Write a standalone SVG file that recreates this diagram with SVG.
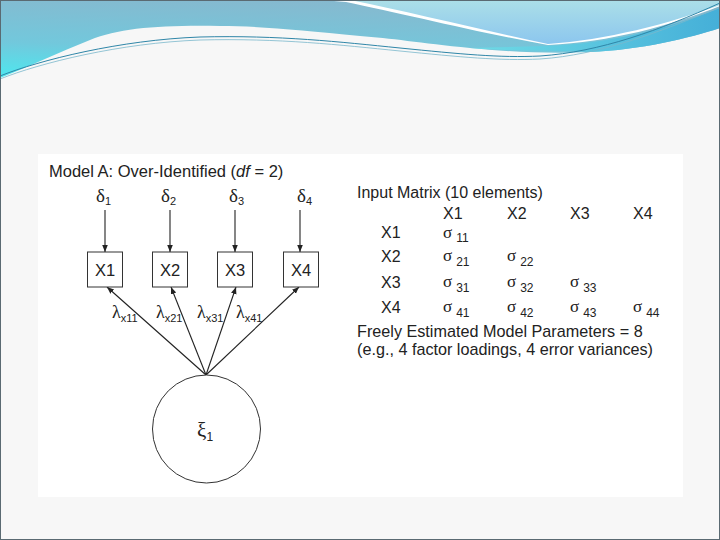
<svg xmlns="http://www.w3.org/2000/svg" width="720" height="540" viewBox="0 0 720 540">
<defs>
<linearGradient id="gBlue" x1="0.4" y1="0" x2="0.1" y2="1">
<stop offset="0" stop-color="#86b9cf"/>
<stop offset="0.6" stop-color="#72c8dc"/>
<stop offset="1" stop-color="#4fe6ee"/>
</linearGradient>
<linearGradient id="gLight" x1="0" y1="0" x2="0" y2="1">
<stop offset="0" stop-color="#abdfe8"/>
<stop offset="1" stop-color="#8cc6ee"/>
</linearGradient>
<linearGradient id="gBand" x1="0" y1="0" x2="1" y2="0">
<stop offset="0" stop-color="#6fdbe6"/>
<stop offset="1" stop-color="#45afd8"/>
</linearGradient>
<marker id="arr" viewBox="0 0 10 10" refX="10" refY="5" markerWidth="7" markerHeight="7" orient="auto" markerUnits="userSpaceOnUse">
<path d="M0,1 L10,5 L0,9 Z" fill="#222"/>
</marker>
<style>
.t{font-family:"Liberation Sans",Arial,sans-serif;fill:#222;}
.g{font-family:"Liberation Serif","Times New Roman",serif;fill:#222;}
.box{fill:#fff;stroke:#333;stroke-width:1;}
.ln{stroke:#222;stroke-width:1.1;fill:none;marker-end:url(#arr);}
</style>
</defs>
<!-- slide background -->
<rect x="0" y="0" width="720" height="540" fill="#f7f7f7"/>
<!-- header waves -->
<path d="M0,0 H720 V28 C690,38 640,50 590,52 C545,54 500,51 470,48 C420,43 390,38 360,36 C300,30 260,26 220,26 C160,25 120,28 90,40 C60,52 30,66 0,78 Z" fill="url(#gBlue)"/>
<path d="M470,48 C520,52 560,50 590,52 C640,50 690,38 720,28 V8 C670,28 610,44 545,46 C520,47 495,47 470,48 Z" fill="url(#gBand)"/>
<path d="M322,0 H720 V6 C670,26 610,42 548,45 C480,33 400,13 346,2 Z" fill="#ffffff"/>
<path d="M350,0 H720 V5 C668,24 606,40 548,44 C482,30 410,12 350,0 Z" fill="url(#gLight)"/>
<path d="M0,76 C40,60 120,40 200,37 C280,35 340,42 400,48 C460,54 500,58 540,56 C600,52 660,30 720,3" fill="none" stroke="#2f86a8" stroke-width="1"/>
<path d="M0,79 C40,63 120,43 200,40 C280,38 340,45 400,51 C460,57 500,61 540,59 C600,55 660,32 720,7" fill="none" stroke="#7ab8cc" stroke-width="0.8"/>
<!-- slide border -->
<rect x="0.5" y="0.5" width="719" height="539" fill="none" stroke="#5a6a72" stroke-width="1"/>
<!-- picture area -->
<rect x="38" y="154" width="645" height="343" fill="#ffffff"/>

<text class="t" x="49" y="177" font-size="16.5">Model A: Over-Identified (<tspan font-style="italic">df</tspan> = 2)</text>

<g id="connectors">
<line class="ln" x1="105" y1="210" x2="105" y2="252"/>
<line class="ln" x1="170" y1="210" x2="170" y2="252"/>
<line class="ln" x1="235" y1="210" x2="235" y2="252"/>
<line class="ln" x1="300" y1="210" x2="300" y2="252"/>
<line class="ln" x1="206" y1="375" x2="107" y2="287"/>
<line class="ln" x1="206" y1="375" x2="171" y2="287"/>
<line class="ln" x1="206" y1="375" x2="236" y2="287"/>
<line class="ln" x1="206" y1="375" x2="299" y2="287"/>
<text class="g" x="112" y="318" font-size="18">λ<tspan class="t" font-size="11" dy="4">x11</tspan></text>
<text class="g" x="156" y="318" font-size="18">λ<tspan class="t" font-size="11" dy="4">x21</tspan></text>
<text class="g" x="197" y="318" font-size="18">λ<tspan class="t" font-size="11" dy="4">x31</tspan></text>
<text class="g" x="236" y="318" font-size="18">λ<tspan class="t" font-size="11" dy="4">x41</tspan></text>
</g>

<g id="d1"><text class="g" x="96" y="202" font-size="19">δ<tspan class="t" font-size="11" dy="3">1</tspan></text></g>
<g id="d2"><text class="g" x="161" y="202" font-size="19">δ<tspan class="t" font-size="11" dy="3">2</tspan></text></g>
<g id="d3"><text class="g" x="229" y="202" font-size="19">δ<tspan class="t" font-size="11" dy="3">3</tspan></text></g>
<g id="d4"><text class="g" x="297" y="202" font-size="19">δ<tspan class="t" font-size="11" dy="3">4</tspan></text></g>

<g id="X1"><rect class="box" x="87.5" y="252" width="35" height="35"/><text class="t" x="105" y="275.5" font-size="16.5" text-anchor="middle">X1</text></g>
<g id="X2"><rect class="box" x="152.5" y="252" width="35" height="35"/><text class="t" x="170" y="275.5" font-size="16.5" text-anchor="middle">X2</text></g>
<g id="X3"><rect class="box" x="217.5" y="252" width="35" height="35"/><text class="t" x="235" y="275.5" font-size="16.5" text-anchor="middle">X3</text></g>
<g id="X4"><rect class="box" x="283.5" y="252" width="35" height="35"/><text class="t" x="301" y="275.5" font-size="16.5" text-anchor="middle">X4</text></g>

<g id="xi1"><circle cx="206.5" cy="429" r="54" fill="#fff" stroke="#333" stroke-width="1"/><text class="g" x="197" y="437" font-size="21">ξ<tspan class="t" font-size="12" dy="4">1</tspan></text></g>

<g id="matrix">
<text class="t" x="357" y="198" font-size="16">Input Matrix (10 elements)</text>
<text class="t" x="443" y="219" font-size="16">X1</text>
<text class="t" x="507" y="219" font-size="16">X2</text>
<text class="t" x="570" y="219" font-size="16">X3</text>
<text class="t" x="633" y="219" font-size="16">X4</text>
<text class="t" x="381" y="238" font-size="16">X1</text>
<text class="t" x="381" y="262" font-size="16">X2</text>
<text class="t" x="381" y="288" font-size="16">X3</text>
<text class="t" x="381" y="313" font-size="16">X4</text>
<text class="g" x="443" y="238" font-size="17">σ<tspan class="t" font-size="12" dx="4" dy="4">11</tspan></text>
<text class="g" x="443" y="261" font-size="17">σ<tspan class="t" font-size="12" dx="4" dy="5">21</tspan></text>
<text class="g" x="507" y="261" font-size="17">σ<tspan class="t" font-size="12" dx="4" dy="5">22</tspan></text>
<text class="g" x="443" y="287" font-size="17">σ<tspan class="t" font-size="12" dx="4" dy="5">31</tspan></text>
<text class="g" x="507" y="287" font-size="17">σ<tspan class="t" font-size="12" dx="4" dy="5">32</tspan></text>
<text class="g" x="570" y="287" font-size="17">σ<tspan class="t" font-size="12" dx="4" dy="5">33</tspan></text>
<text class="g" x="443" y="312" font-size="17">σ<tspan class="t" font-size="12" dx="4" dy="5">41</tspan></text>
<text class="g" x="507" y="312" font-size="17">σ<tspan class="t" font-size="12" dx="4" dy="5">42</tspan></text>
<text class="g" x="570" y="312" font-size="17">σ<tspan class="t" font-size="12" dx="4" dy="5">43</tspan></text>
<text class="g" x="633" y="312" font-size="17">σ<tspan class="t" font-size="12" dx="4" dy="5">44</tspan></text>
<text class="t" x="357" y="337" font-size="16.2">Freely Estimated Model Parameters = 8</text>
<text class="t" x="357" y="355" font-size="16.2">(e.g., 4 factor loadings, 4 error variances)</text>
</g>
</svg>
